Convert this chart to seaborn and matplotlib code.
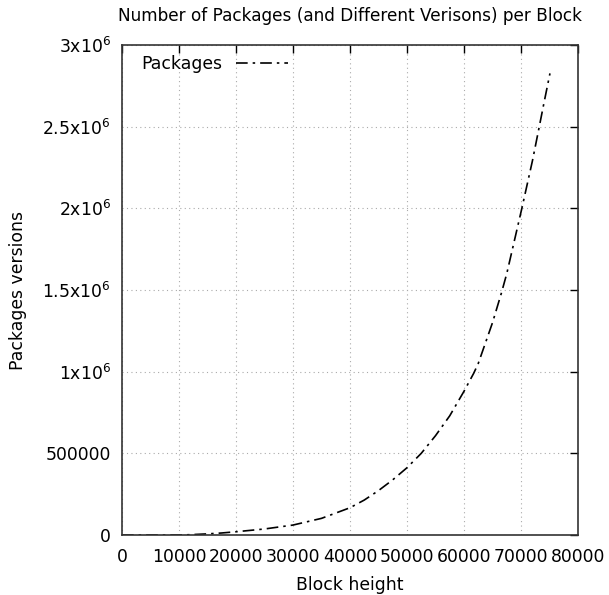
import matplotlib
matplotlib.use("Agg")
import matplotlib.pyplot as plt
import seaborn as sns
import pandas as pd

# Cumulative count of package versions by block height
block_height = [0, 5000, 10450, 12500, 15000, 17500, 20000, 25000, 30000,
                35000, 40000, 42500, 45000, 47500, 50000, 52500, 55000,
                57500, 60000, 61700, 62500, 65000, 66550, 67500, 70150,
                72000, 73090, 74000, 75080]
package_versions = [0, 0, 0, 3000, 7000, 12500, 20000, 37000, 61000,
                    102000, 167000, 214000, 272000, 338000, 412000, 500000,
                    608000, 730000, 880000, 990000, 1050000, 1300000,
                    1480000, 1600000, 2000000, 2290000, 2480000, 2640000,
                    2826000]

x_ticks = [0, 10000, 20000, 30000, 40000, 50000, 60000, 70000, 80000]
y_ticks = [0, 500000, 1000000, 1500000, 2000000, 2500000, 3000000]
y_tick_labels = ["0", "500000", r"1x10$^{6}$", r"1.5x10$^{6}$",
                 r"2x10$^{6}$", r"2.5x10$^{6}$", r"3x10$^{6}$"]

df = pd.DataFrame({"Block height": block_height,
                   "Packages versions": package_versions})

sns.set_style("white")
plt.rcParams["font.family"] = ["DejaVu Sans"]
plt.rcParams["mathtext.fontset"] = "dejavusans"
plt.rcParams["text.color"] = "black"
plt.rcParams["axes.labelcolor"] = "black"
plt.rcParams["xtick.color"] = "black"
plt.rcParams["ytick.color"] = "black"

FS = 12.4

fig = plt.figure(figsize=(6.09, 5.95), dpi=100)
ax = fig.add_axes([0.2003, 0.1008, 0.7488, 0.8236])

sns.lineplot(data=df, x="Block height", y="Packages versions", ax=ax,
             color="black", linewidth=1.2, label="Packages")
ax.lines[0].set_dashes([7, 3, 1.5, 3])

ax.set_xlim(0, 80000)
ax.set_ylim(0, 3000000)
ax.set_xticks(x_ticks)
ax.set_xticklabels([str(v) for v in x_ticks], fontsize=FS)
ax.set_yticks(y_ticks)
ax.set_yticklabels(y_tick_labels, fontsize=FS)

ax.tick_params(axis="both", direction="in", length=6, width=1,
               color="black", top=True, right=True)
ax.tick_params(axis="y", pad=8)
ax.tick_params(axis="x", pad=9)

for s in ax.spines.values():
    s.set_visible(True)
    s.set_color("#333333")
    s.set_linewidth(1.2)

ax.grid(True, linestyle=(0, (1, 3)), color="#aaaaaa", linewidth=0.8)

ax.set_xlabel("Block height", fontsize=FS, labelpad=7.5)
ax.set_ylabel("Packages versions", fontsize=FS, labelpad=11)
ax.set_title("Number of Packages (and Different Verisons) per Block",
             fontsize=12.15, pad=17)

leg = ax.legend(loc="upper left", bbox_to_anchor=(0.02, 1.0), frameon=False,
                markerfirst=False, fontsize=FS, handlelength=3.0,
                borderaxespad=0.2, handletextpad=0.8)

fig.savefig("out.png", dpi=100, facecolor="white")
